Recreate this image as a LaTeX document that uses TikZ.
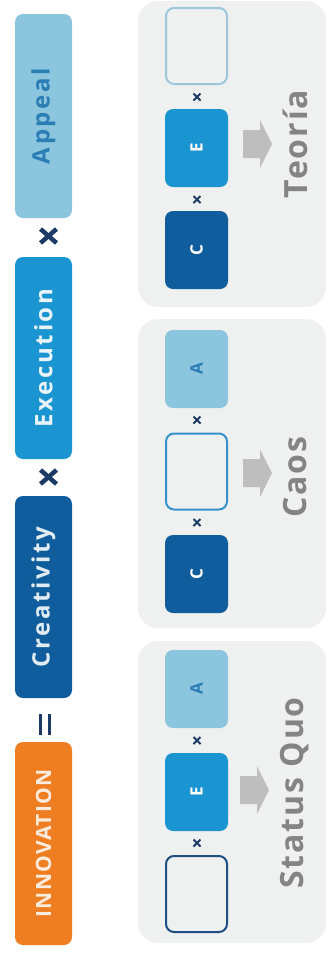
\documentclass[tikz,border=0pt]{standalone}
\usepackage{fontspec}
\setmainfont{Open Sans}
\newfontfamily\boxfont[LetterSpace=11]{Open Sans}
\newfontfamily\innofont[LetterSpace=6]{Open Sans}
\newfontfamily\labfont[LetterSpace=6]{Open Sans}
\definecolor{orangec}{HTML}{EF7D22}
\definecolor{darkc}{HTML}{105D9D}
\definecolor{medc}{HTML}{1B95D2}
\definecolor{lightc}{HTML}{8CC6DE}
\definecolor{navyc}{HTML}{1C3A66}
\definecolor{panelc}{HTML}{EFF0F0}
\definecolor{arrowc}{HTML}{BEBEBE}
\definecolor{labc}{HTML}{848484}
\definecolor{atext}{HTML}{2A7DB5}
\definecolor{palec}{HTML}{9CC7DD}
\definecolor{midoutc}{HTML}{3592CC}
\definecolor{darkoutc}{HTML}{1E4F82}
\begin{document}
\begin{tikzpicture}[x=1pt,y=-1pt,
  mainbox/.style={rectangle, rounded corners=8pt, minimum width=57pt, inner sep=0pt},
  maintext/.style={font=\boxfont\bfseries\fontsize{24}{24}\selectfont},
  panelbox/.style={fill=panelc, rounded corners=20pt},
  sqbox/.style={rectangle, rounded corners=8pt, minimum width=63pt, minimum height=78pt, inner sep=0pt, font=\bfseries\fontsize{17}{17}\selectfont},
  emptybox/.style={sqbox, fill=panelc, line width=2pt, minimum width=61pt, minimum height=76pt},
  labeltext/.style={font=\labfont\bfseries\fontsize{32}{32}\selectfont, text=labc, inner sep=0pt},
  bigx/.style={draw=navyc, line width=4.5pt},
  smallx/.style={draw=navyc, line width=2pt},
  eqbar/.style={draw=navyc, line width=3pt}
]
\useasboundingbox[fill=white] (0,0) rectangle (327,959);

% top equation (left column)
\node[mainbox, fill=lightc, minimum height=204pt, text=atext, maintext] (appeal) at (43.5,116) {\rotatebox{90}{Appeal}};
\node[mainbox, fill=medc, minimum height=202pt, text=white!90!medc, maintext] (exec) at (43.5,358) {\rotatebox{90}{Execution}};
\node[mainbox, fill=darkc, minimum height=202pt, text=white!88!darkc, maintext] (crea) at (43.5,597) {\rotatebox{90}{Creativity}};
\node[mainbox, fill=orangec, minimum height=203pt, text=white!85!orangec, font=\innofont\bfseries\fontsize{21}{21}\selectfont] (inno) at (43.5,843.5) {\rotatebox{90}{INNOVATION}};

\coordinate (x1) at (48.5,236);
\coordinate (x2) at (48.5,477);
\coordinate (eq) at (45,724.5);
\foreach \c in {x1,x2}{
  \path[bigx] (\c) ++(-8,-7) -- ++(16,14);
  \path[bigx] (\c) ++(-8,7) -- ++(16,-14);
}
\path[eqbar] (eq) ++(-4.5,-10.5) -- ++(0,21);
\path[eqbar] (eq) ++(4.5,-10.5) -- ++(0,21);

% panels
\fill[panelbox] (138,1) rectangle (326,307);
\fill[panelbox] (138,319) rectangle (326,628);
\fill[panelbox] (138,641) rectangle (326,943);

% Teoria panel
\node[emptybox, draw=palec] (t1) at (196.5,46) {};
\node[sqbox, fill=medc, text=white] (t2) at (196.5,148) {\rotatebox{90}{E}};
\node[sqbox, fill=darkc, text=white] (t3) at (196.5,250) {\rotatebox{90}{C}};
\coordinate (tx1) at (197,97);
\coordinate (tx2) at (197,199.5);
\coordinate (ta) at (257.5,144);
\node[labeltext] (tl) at (295,144) {\rotatebox{90}{Teoría}};

% Caos panel
\node[sqbox, fill=lightc, text=atext] (c1) at (196.5,369) {\rotatebox{90}{A}};
\node[emptybox, draw=midoutc] (c2) at (196.5,471.5) {};
\node[sqbox, fill=darkc, text=white] (c3) at (196.5,574) {\rotatebox{90}{C}};
\coordinate (cx1) at (197,420);
\coordinate (cx2) at (197,522.5);
\coordinate (ca) at (257.5,473);
\node[labeltext] (cl) at (295,477) {\rotatebox{90}{Caos}};

% Status Quo panel
\node[sqbox, fill=lightc, text=atext] (s1) at (196.5,689) {\rotatebox{90}{A}};
\node[sqbox, fill=medc, text=white] (s2) at (196.5,792) {\rotatebox{90}{E}};
\node[emptybox, draw=darkoutc] (s3) at (196.5,894) {};
\coordinate (sx1) at (197,740.5);
\coordinate (sx2) at (197,843);
\coordinate (sa) at (254.5,790);
\node[labeltext] (sl) at (295,793) {\rotatebox{90}{Status Quo}};

\foreach \c in {tx1,tx2,cx1,cx2,sx1,sx2}{
  \path[smallx] (\c) ++(-3.5,-3.5) -- ++(7,7);
  \path[smallx] (\c) ++(-3.5,3.5) -- ++(7,-7);
}
\foreach \c in {ta,ca,sa}{
  \fill[arrowc] (\c) ++(-14.5,-14) -- ++(17,0) -- ++(0,-10) -- ++(12,24) -- ++(-12,24) -- ++(0,-10) -- ++(-17,0) -- cycle;
}
\end{tikzpicture}
\end{document}
